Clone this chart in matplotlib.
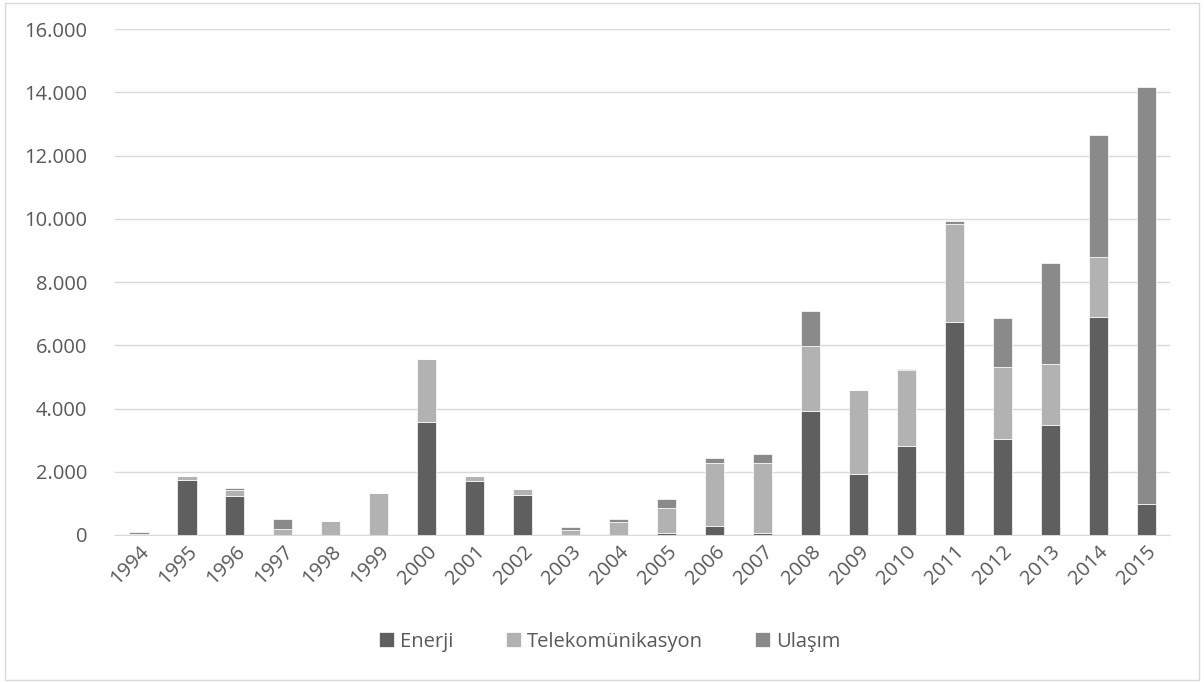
import matplotlib.pyplot as plt
import numpy as np
from matplotlib.ticker import FuncFormatter
from matplotlib.patches import Rectangle

plt.rcParams['font.family'] = ['Open Sans', 'DejaVu Sans']

yillar = [str(y) for y in range(1994, 2016)]
enerji = [0, 1730, 1220, 0, 0, 0, 3560, 1695, 1250, 0, 0, 50, 270, 70,
          3920, 1930, 2830, 6730, 3035, 3465, 6900, 975]
telekom = [40, 130, 190, 200, 430, 1330, 2000, 180, 200, 150, 400, 790, 2000, 2220,
           2060, 2670, 2390, 3090, 2265, 1935, 1890, 0]
ulasim = [45, 0, 70, 295, 0, 0, 0, 0, 0, 90, 115, 300, 170, 260,
          1090, 0, 30, 100, 1570, 3210, 3850, 13190]

renkler = {'Enerji': '#5f5f5f', 'Telekomünikasyon': '#b2b2b2', 'Ulaşım': '#8a8a8a'}

fig = plt.figure(figsize=(12.04, 6.83), dpi=100)
ax = fig.add_axes([0.0955, 0.2167, 0.8765, 0.7408])

x = np.arange(len(yillar))
w = 0.4
e = np.array(enerji)
t = np.array(telekom)
u = np.array(ulasim)
ax.bar(x, e, w, color=renkler['Enerji'], label='Enerji', edgecolor='white', linewidth=0.5, zorder=3)
ax.bar(x, t, w, bottom=e, color=renkler['Telekomünikasyon'], label='Telekomünikasyon',
       edgecolor='white', linewidth=0.5, zorder=3)
ax.bar(x, u, w, bottom=e + t, color=renkler['Ulaşım'], label='Ulaşım',
       edgecolor='white', linewidth=0.5, zorder=3)

ax.set_xlim(-0.5, len(yillar) - 0.5)
ax.set_ylim(0, 16000)
ax.set_yticks(np.arange(0, 16001, 2000))
ax.yaxis.set_major_formatter(FuncFormatter(lambda v, p: f"{int(v):,}".replace(',', '.')))
ax.grid(axis='y', color='#d9d9d9', linewidth=1, zorder=0)
for s in ['top', 'right', 'left']:
    ax.spines[s].set_visible(False)
ax.spines['bottom'].set_color('#d9d9d9')
ax.tick_params(axis='both', length=0, labelsize=14.5, labelcolor='#595959')
ax.tick_params(axis='y', pad=20)
ax.tick_params(axis='x', pad=5)
ax.set_xticks(x)
ax.set_xticklabels(yillar, rotation=45, ha='right', rotation_mode='anchor')

ax.legend(loc='upper center', bbox_to_anchor=(0.469, -0.155), ncol=3, frameon=False,
          fontsize=14.5, labelcolor='#595959', handlelength=0.75, handleheight=0.75,
          handletextpad=0.3, columnspacing=2.6)

fig.patches.append(Rectangle((0.004, 0.004), 0.992, 0.992, transform=fig.transFigure,
                             fill=False, edgecolor='#d9d9d9', linewidth=1))

plt.savefig('out.png', dpi=100)
